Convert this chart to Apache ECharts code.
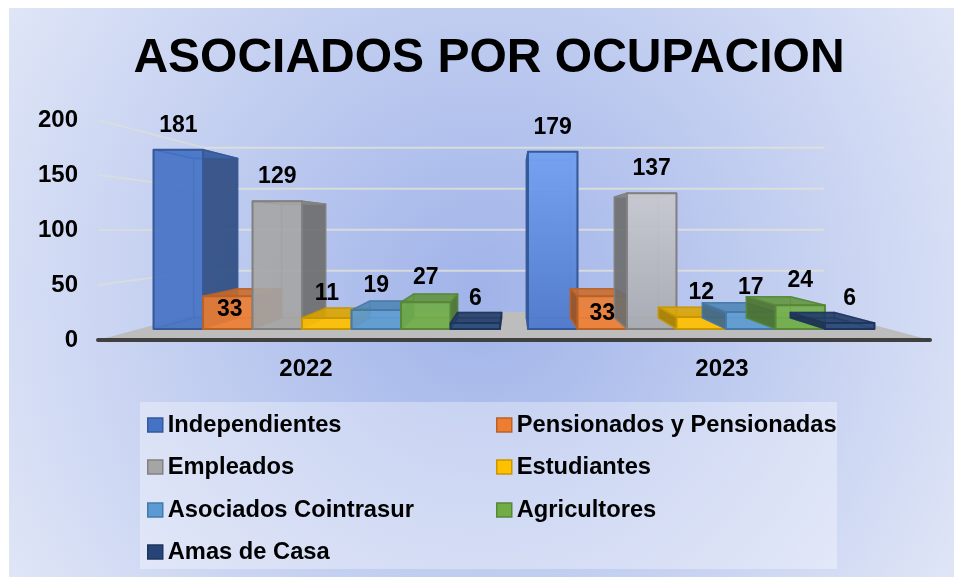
<!DOCTYPE html>
<html lang="es">
<head>
    <meta charset="UTF-8">
    <title>Asociados por ocupacion</title>
    <script src="https://cdn.jsdelivr.net/npm/echarts@6/dist/echarts.min.js"></script>
    <style>
        * { margin: 0; padding: 0; }
        body { background: #fff; }
        #chart-container { width: 954px; height: 577px; }
    </style>
</head>
<body>
    <div id="chart-container"></div>
    <script>
        var categories = ['2022', '2023'];
        var yTicks = [0, 50, 100, 150, 200];
        var seriesNames = ['Independientes', 'Pensionados y Pensionadas', 'Empleados', 'Estudiantes', 'Asociados Cointrasur', 'Agricultores', 'Amas de Casa'];
        var independientes = [181, 179];
        var pensionados = [33, 33];
        var empleados = [129, 137];
        var estudiantes = [11, 12];
        var cointrasur = [19, 17];
        var agricultores = [27, 24];
        var amasDeCasa = [6, 6];
        var seriesValues = [independientes, pensionados, empleados, estudiantes, cointrasur, agricultores, amasDeCasa];
        var seriesColors = ['#4472c4', '#ed7d31', '#a5a5a5', '#ffc000', '#5b9bd5', '#70ad47', '#264478'];

        var FONT = '"Liberation Sans", Arial, sans-serif';
        // punto de fuga y planos de profundidad de la perspectiva
        var VP = [514, 229];
        var S_WALL = 0.745, S_FRONT = 0.9, S_BACK = 0.8;
        var BAR_RATIO = 0.1322;

        function proj(p, s) {
            return [VP[0] + (p[0] - VP[0]) * s, VP[1] + (p[1] - VP[1]) * s];
        }

        function face(points, fill, stroke, lw) {
            return {
                type: 'polygon',
                shape: { points: points },
                style: { fill: fill, stroke: stroke, lineWidth: lw === undefined ? 1.5 : lw, lineJoin: 'round' }
            };
        }

        function alpha(c, a) {
            return echarts.color.modifyAlpha(c, a);
        }

        function darken(c, t) {
            return echarts.color.lerp(t, [c, '#000000']);
        }

        function renderBar(params, api) {
            var j = params.seriesIndex - 1;
            var c = seriesColors[j];
            var idx = api.value(0);
            var val = api.value(1);
            var base = api.coord([idx, 0]);
            var top = api.coord([idx, val]);
            var w = api.size([1, 0])[0] * BAR_RATIO;
            var x0 = base[0] + (j - 3.5) * w;
            var x1 = x0 + w;

            var fbl = proj([x0, base[1]], S_FRONT), fbr = proj([x1, base[1]], S_FRONT);
            var ftl = proj([x0, top[1]], S_FRONT), ftr = proj([x1, top[1]], S_FRONT);
            var bbl = proj([x0, base[1]], S_BACK), bbr = proj([x1, base[1]], S_BACK);
            var btl = proj([x0, top[1]], S_BACK), btr = proj([x1, top[1]], S_BACK);

            var dark = darken(c, 0.35);
            var edge = darken(c, 0.22);
            var showLeft = fbl[0] > VP[0];
            var showRight = fbr[0] < VP[0];
            var showTop = ftl[1] > VP[1];
            var soft = alpha(edge, 0.4);

            var front;
            if (idx === 1 && j === 0) {
                front = new echarts.graphic.LinearGradient(0, 0, 0, 1, [
                    { offset: 0, color: alpha('#74a2f2', 0.95) },
                    { offset: 1, color: alpha('#5079cc', 0.95) }
                ]);
            } else if (idx === 1 && j === 2) {
                front = new echarts.graphic.LinearGradient(0, 0, 0, 1, [
                    { offset: 0, color: alpha('#c8cad0', 0.92) },
                    { offset: 1, color: alpha('#a8aab2', 0.92) }
                ]);
            } else {
                front = alpha(c, 0.88);
            }

            var children = [
                face([bbl, bbr, btr, btl], alpha(c, 0.25), soft),
                face([fbl, fbr, bbr, bbl], alpha(c, 0.3), soft),
                face([fbl, bbl, btl, ftl], showLeft ? alpha(dark, 0.88) : alpha(c, 0.2), showLeft ? alpha(edge, 0.9) : soft),
                face([fbr, bbr, btr, ftr], showRight ? alpha(dark, 0.88) : alpha(c, 0.2), showRight ? alpha(edge, 0.9) : soft),
                face([ftl, ftr, btr, btl], showTop ? alpha(darken(c, 0.15), 0.85) : alpha(c, 0.4), alpha(edge, 0.9)),
                face([fbl, fbr, ftr, ftl], front, edge, 2)
            ];

            // el 33 va dentro de la barra naranja, el resto encima
            var labelY = val === 33 ? ftl[1] + (idx === 0 ? 13 : 17) : ftl[1] - 24.5;
            var labelX = (ftl[0] + ftr[0]) / 2 + (val === 33 && idx === 0 ? 2 : 0);
            children.push({
                type: 'text',
                z2: 100,
                x: labelX,
                y: labelY,
                style: {
                    text: String(val),
                    font: 'bold 23px ' + FONT,
                    fill: '#000',
                    align: 'center',
                    verticalAlign: 'middle'
                }
            });
            return { type: 'group', children: children };
        }

        function renderWalls(params, api) {
            var g = params.coordSys;
            var y = api.coord([0, api.value(1)])[1];
            var left = g.x, right = g.x + g.width;
            if (api.value(1) === 0) {
                return face([[left, y], [right, y], proj([right, y], S_WALL), proj([left, y], S_WALL)], '#bdbdbd', 'transparent', 0);
            }
            var a = proj([left, y], S_WALL), b = proj([right, y], S_WALL);
            var wallLine = { stroke: 'rgba(226,226,206,0.55)', lineWidth: 2, fill: 'none' };
            var backLine = { stroke: 'rgba(226,226,214,0.8)', lineWidth: 2, fill: 'none' };
            return {
                type: 'group',
                children: [
                    { type: 'line', shape: { x1: left, y1: y, x2: a[0], y2: a[1] }, style: wallLine },
                    { type: 'line', shape: { x1: a[0], y1: a[1], x2: b[0], y2: b[1] }, style: backLine }
                ]
            };
        }

        var series = [{
            name: 'paredes',
            type: 'custom',
            z: 1,
            silent: true,
            renderItem: renderWalls,
            encode: { x: 0, y: 1 },
            data: yTicks.map(function (t) { return [0, t]; })
        }];
        seriesNames.forEach(function (name, j) {
            series.push({
                name: name,
                type: 'custom',
                z: 2,
                renderItem: renderBar,
                encode: { x: 0, y: 1 },
                itemStyle: { color: seriesColors[j] },
                data: seriesValues[j].map(function (v, i) { return [i, v]; })
            });
        });

        var legendRows = [413, 455, 498, 540];
        var legends = seriesNames.map(function (name, j) {
            return {
                data: [name],
                left: j % 2 === 0 ? 147 : 496,
                top: legendRows[Math.floor(j / 2)],
                padding: 0,
                itemWidth: 15,
                itemHeight: 14,
                itemGap: 0,
                icon: 'rect',
                selectedMode: false,
                itemStyle: { borderColor: darken(seriesColors[j], 0.22), borderWidth: 1.5 },
                textStyle: { fontFamily: FONT, fontWeight: 'bold', fontSize: 23.7, color: '#000' }
            };
        });

        var chart = echarts.init(document.getElementById('chart-container'), null, { renderer: 'canvas' });
        chart.setOption({
            animation: false,
            backgroundColor: '#fff',
            title: {
                text: 'ASOCIADOS POR OCUPACION',
                left: 484,
                top: 30,
                textAlign: 'center',
                textStyle: { fontFamily: FONT, fontWeight: 'bold', fontSize: 48, color: '#000' }
            },
            graphic: [
                {
                    type: 'rect',
                    z: -10,
                    shape: { x: 9, y: 8, width: 945, height: 569 },
                    style: {
                        fill: new echarts.graphic.RadialGradient(0.5, 0.5, 0.98, [
                            { offset: 0, color: '#a0b3e9' },
                            { offset: 1, color: '#e0e6f7' }
                        ])
                    }
                },
                {
                    type: 'rect',
                    z: -9,
                    shape: { x: 140, y: 402, width: 697, height: 167 },
                    style: { fill: 'rgba(255,255,255,0.34)' }
                }
            ],
            legend: legends,
            grid: { left: 98, right: 24, top: 120, bottom: 237 },
            xAxis: {
                type: 'category',
                data: categories,
                z: 3,
                axisLine: { lineStyle: { color: '#404040', width: 4 } },
                axisTick: { show: false },
                axisLabel: { fontFamily: FONT, fontWeight: 'bold', fontSize: 24, color: '#000', margin: 17 }
            },
            yAxis: {
                type: 'value',
                min: 0,
                max: 200,
                interval: 50,
                axisLine: { show: false },
                axisTick: { show: false },
                splitLine: { show: false },
                axisLabel: { fontFamily: FONT, fontWeight: 'bold', fontSize: 24, color: '#000', margin: 20, padding: [4, 0, 0, 0] }
            },
            series: series
        });
    </script>
</body>
</html>
